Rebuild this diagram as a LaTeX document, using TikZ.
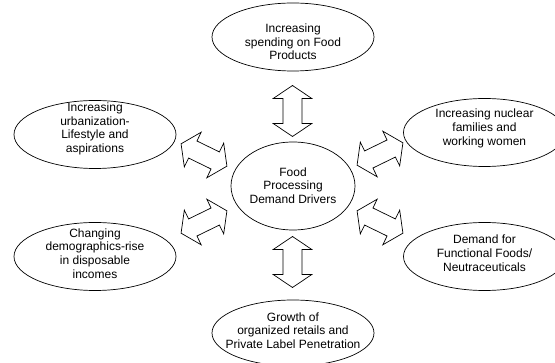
\documentclass[tikz,border=0pt]{standalone}
\usepackage{fontspec}
\setmainfont{Liberation Sans}
\usetikzlibrary{shapes.geometric}

\tikzset{
  driver/.style={draw, ellipse, line width=0.7pt, minimum width=162pt, minimum height=68pt, inner sep=0pt},
  drivertxt/.style={align=center, font=\fontsize{12}{13.7}\selectfont, inner sep=0pt},
  blockarrow/.pic={
    \draw[line width=0.7pt, fill=white]
      (-25.5,0) -- (-12.5,19.3) -- (-12.5,9.5) -- (12.5,9.5) -- (12.5,19.3)
      -- (25.5,0) -- (12.5,-19.3) -- (12.5,-9.5) -- (-12.5,-9.5) -- (-12.5,-19.3) -- cycle;
  }
}

\begin{document}
\begin{tikzpicture}[x=1pt, y=-1pt]
  \clip (0,0) rectangle (555,363);
  % Hub
  \node[driver, minimum width=124pt, minimum height=88pt] (hub) at (293,186) {};
  \node[drivertxt] (hubtxt) at (293,185.5) {Food\\Processing\\Demand Drivers};
  % Drivers, top and bottom
  \node[driver] (spend) at (293,37) {};
  \node[drivertxt] (spendtxt) at (293,42) {Increasing\\spending on Food\\Products};
  \node[driver, minimum height=66pt] (retail) at (293,333) {};
  \node[drivertxt] (retailtxt) at (293,330.5) {Growth of\\organized retails and\\Private Label Penetration};
  % Drivers, left
  \node[driver] (urban) at (95,134.5) {};
  \node[drivertxt] (urbantxt) at (95,129) {Increasing\\urbanization-\\Lifestyle and\\aspirations};
  \node[driver] (demog) at (95,256.5) {};
  \node[drivertxt] (demogtxt) at (95,253.3) {Changing\\demographics-rise\\in disposable\\incomes};
  % Drivers, right
  \node[driver] (nuclear) at (484.5,132.5) {};
  \node[drivertxt] (nucleartxt) at (484.5,128.5) {Increasing nuclear\\families and\\working women};
  \node[driver] (functional) at (484.5,256.5) {};
  \node[drivertxt] (functionaltxt) at (484.5,253.3) {Demand for\\Functional Foods/\\Neutraceuticals};
  % Block arrows
  \foreach \x/\y/\a in {292.5/111/90, 292.5/262/90, 204/155/-26, 204/222/26, 380/154/26, 380/222/-26}
    \pic[rotate=\a] at (\x,\y) {blockarrow};
\end{tikzpicture}
\end{document}
